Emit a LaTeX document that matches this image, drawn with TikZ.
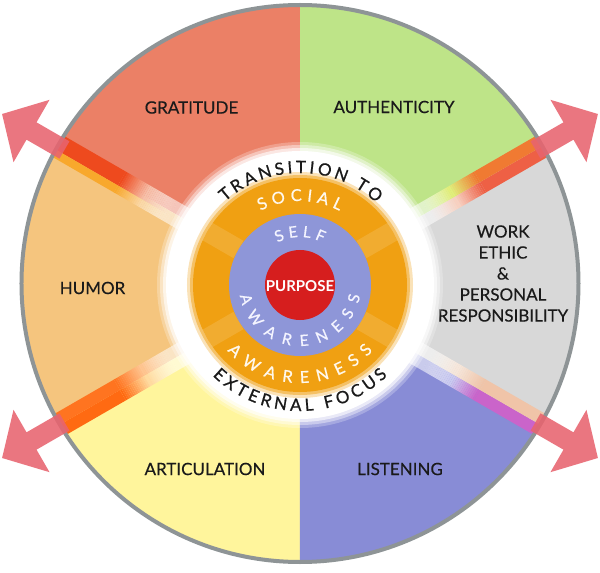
\documentclass[tikz,border=0pt]{standalone}
\usepackage{fontspec}
\setmainfont{Lato}
\newfontfamily\ringfont[FakeBold=0.8]{Lato}
\newfontfamily\labfont[FakeBold=0.3]{Lato}
\usetikzlibrary{decorations.text}
\definecolor{cGrat}{HTML}{EB8066}
\definecolor{cAuth}{HTML}{BEE488}
\definecolor{cWork}{HTML}{D8D8D8}
\definecolor{cList}{HTML}{888CD6}
\definecolor{cArt}{HTML}{FFF59C}
\definecolor{cHum}{HTML}{F5C57E}
\definecolor{cRim}{HTML}{8E9496}
\definecolor{cOrange}{HTML}{F0A012}
\definecolor{cBlue}{HTML}{8E96D8}
\definecolor{cRed}{HTML}{D61E1E}
\definecolor{cArrow}{HTML}{E8646F}
\definecolor{cInk}{HTML}{1A1A1A}
\definecolor{cWhiteA}{HTML}{FFF8EC}
\definecolor{cWhiteB}{HTML}{F4F4FF}
% beam colours
\definecolor{bGratMid}{HTML}{F6C0AA}
\definecolor{bGratFull}{HTML}{EE4A1E}
\definecolor{bHumMid}{HTML}{FAD8A8}
\definecolor{bHumFull}{HTML}{F8A82C}
\definecolor{bWorkMidA}{HTML}{F8D0C0}
\definecolor{bWorkFullA}{HTML}{EE6045}
\definecolor{bAuthMid}{HTML}{E2EE7A}
\definecolor{bAuthFull}{HTML}{F07A32}
\definecolor{bHumMidB}{HTML}{FFC490}
\definecolor{bHumFullB}{HTML}{FF7420}
\definecolor{bArtMid}{HTML}{FFDAA0}
\definecolor{bArtFull}{HTML}{FF6A12}
\definecolor{bListMid}{HTML}{CACAF0}
\definecolor{bListFull}{HTML}{CA64CA}
\definecolor{bWorkMidB}{HTML}{F6E6DA}
\definecolor{bWorkFullB}{HTML}{F0C4A8}

% gradient of segments: v1 v2 r1 r2 colA colB opA opB
\newcommand{\gradseg}[8]{%
  \foreach \k in {0,...,14}{%
    \pgfmathsetmacro{\ra}{#3+(#4-#3)*\k/15}%
    \pgfmathsetmacro{\rb}{#3+(#4-#3)*(\k+1)/15}%
    \pgfmathtruncatemacro{\pp}{100*\k/14}%
    \pgfmathsetmacro{\oo}{#7+(#8-#7)*\k/14}%
    \fill[#6!\pp!#5,opacity=\oo] (\ra,#1) rectangle (\rb,#2);
  }}
\newcommand{\beamhalf}[4]{%
  \fill[white,opacity=.55] (130,#1) rectangle (148,#2);
  \gradseg{#1}{#2}{148}{178}{white}{#3}{.55}{1}
  \gradseg{#1}{#2}{178}{208}{#3}{#4}{1}{1}
  \fill[#4] (208,#1) rectangle (290,#2);
}
\newcommand{\beam}[6]{%
  \begin{scope}[shift={(0,-1)},rotate=#1]
    \beamhalf{-12}{#2}{#3}{#4}
    \beamhalf{#2}{12}{#5}{#6}
  \end{scope}}
\newcommand{\rfTop}{\ringfont\fontsize{17}{17}\selectfont}
\newcommand{\rfMid}{\ringfont\fontsize{16.5}{17}\selectfont}
\newcommand{\rfIn}{\ringfont\fontsize{15.5}{16}\selectfont}

\begin{document}
\begin{tikzpicture}[x=1pt,y=1pt,
  lab/.style={font=\labfont\fontsize{17}{21}\selectfont, text=cInk, inner sep=0pt, align=center},
  arrowshape/.style={fill=cArrow, fill opacity=.88}]
\useasboundingbox (-300,-288) rectangle (300,285);
\fill[white] (-300,-288) rectangle (300,285);

% sectors and beams
\begin{scope}
  \clip (0,1.5) circle (278);
  \begin{scope}[shift={(0,-1)}]
    \fill[cAuth] (0,0) -- (30:450) arc[start angle=30,end angle=90,radius=450] -- cycle;
    \fill[cGrat] (0,0) -- (90:450) arc[start angle=90,end angle=150,radius=450] -- cycle;
    \fill[cHum] (0,0) -- (150:450) arc[start angle=150,end angle=210,radius=450] -- cycle;
    \fill[cArt] (0,0) -- (210:450) arc[start angle=210,end angle=270,radius=450] -- cycle;
    \fill[cList] (0,0) -- (270:450) arc[start angle=270,end angle=330,radius=450] -- cycle;
    \fill[cWork] (0,0) -- (-30:450) arc[start angle=-30,end angle=30,radius=450] -- cycle;
  \end{scope}
  \beam{150}{4}{bGratMid}{bGratFull}{bHumMid}{bHumFull}
  \beam{30}{0}{bWorkMidA}{bWorkFullA}{bAuthMid}{bAuthFull}
  \beam{210}{0}{bHumMidB}{bHumFullB}{bArtMid}{bArtFull}
  \beam{330}{0}{bListMid}{bListFull}{bWorkMidB}{bWorkFullB}
\end{scope}

% sector labels
\node[lab] (grat) at (-108.5,177.5) {GRATITUDE};
\node[lab] (auth) at (94,178) {AUTHENTICITY};
\node[lab] (humor) at (-207.5,-3) {HUMOR};
\node[lab] (work) at (203,11.5) {WORK\\ETHIC\\\&\\PERSONAL\\RESPONSIBILITY};
\node[lab] (artic) at (-95,-184) {ARTICULATION};
\node[lab] (listen) at (100,-184) {LISTENING};

% white ring with glow
\fill[white,opacity=.25] (0,0) circle (143);
\fill[white,opacity=.4] (0,0) circle (140);
\fill[white,opacity=.6] (0,0) circle (137);
\fill[white] (0,0) circle (134);
% orange ring with soft edge
\fill[cOrange!30!white] (0,0) circle (113);
\fill[cOrange!65!white] (0,0) circle (110);
\fill[cOrange] (0,0) circle (107);
\foreach \a in {30,150,210,330}{
  \fill[white,opacity=.13,rotate=\a] (71,-10) rectangle (107,10);
}
\fill[cBlue] (0,0) circle (71);
\fill[cRed] (0,0) circle (35);
\node[font=\bfseries\fontsize{15}{16}\selectfont, text=white, inner sep=0pt] (purpose) at (0,-1.5) {PURPOSE};

% outer rim
\draw[cRim, line width=4pt] (0,1.5) circle (278.5);

% arrows
\foreach \a in {30,150,210,330}{
  \begin{scope}[shift={(0,-1)},rotate=\a]
    \fill[arrowshape] (272,-10) -- (310,-10) -- (310,-36) -- (344,0) -- (310,36) -- (310,10) -- (272,10) -- cycle;
  \end{scope}
}

% curved ring texts
\path[decorate, decoration={text along path, text={|\rfTop|TRANSITION TO}, text align={fit to path}, text color=cInk}]
  (132:112) arc[start angle=132, end angle=47, radius=112];
\path[decorate, decoration={text along path, text={|\rfTop|EXTERNAL FOCUS}, text align={fit to path}, text color=cInk}]
  (-134:126) arc[start angle=-134, end angle=-46, radius=126];
\path[decorate, decoration={text along path, text={|\rfMid|SOCIAL}, text align={fit to path}, text color=cWhiteA}]
  (118:84) arc[start angle=118, end angle=62, radius=84];
\path[decorate, decoration={text along path, text={|\rfMid|AWARENESS}, text align={fit to path}, text color=cWhiteA}]
  (-138:98) arc[start angle=-138, end angle=-42, radius=98];
\path[decorate, decoration={text along path, text={|\rfIn|SELF}, text align={fit to path}, text color=cWhiteB}]
  (118:48) arc[start angle=118, end angle=62, radius=48];
\path[decorate, decoration={text along path, text={|\rfIn|AWARENESS}, text align={fit to path}, text color=cWhiteB}]
  (-170:61) arc[start angle=-170, end angle=-10, radius=61];
\end{tikzpicture}
\end{document}
